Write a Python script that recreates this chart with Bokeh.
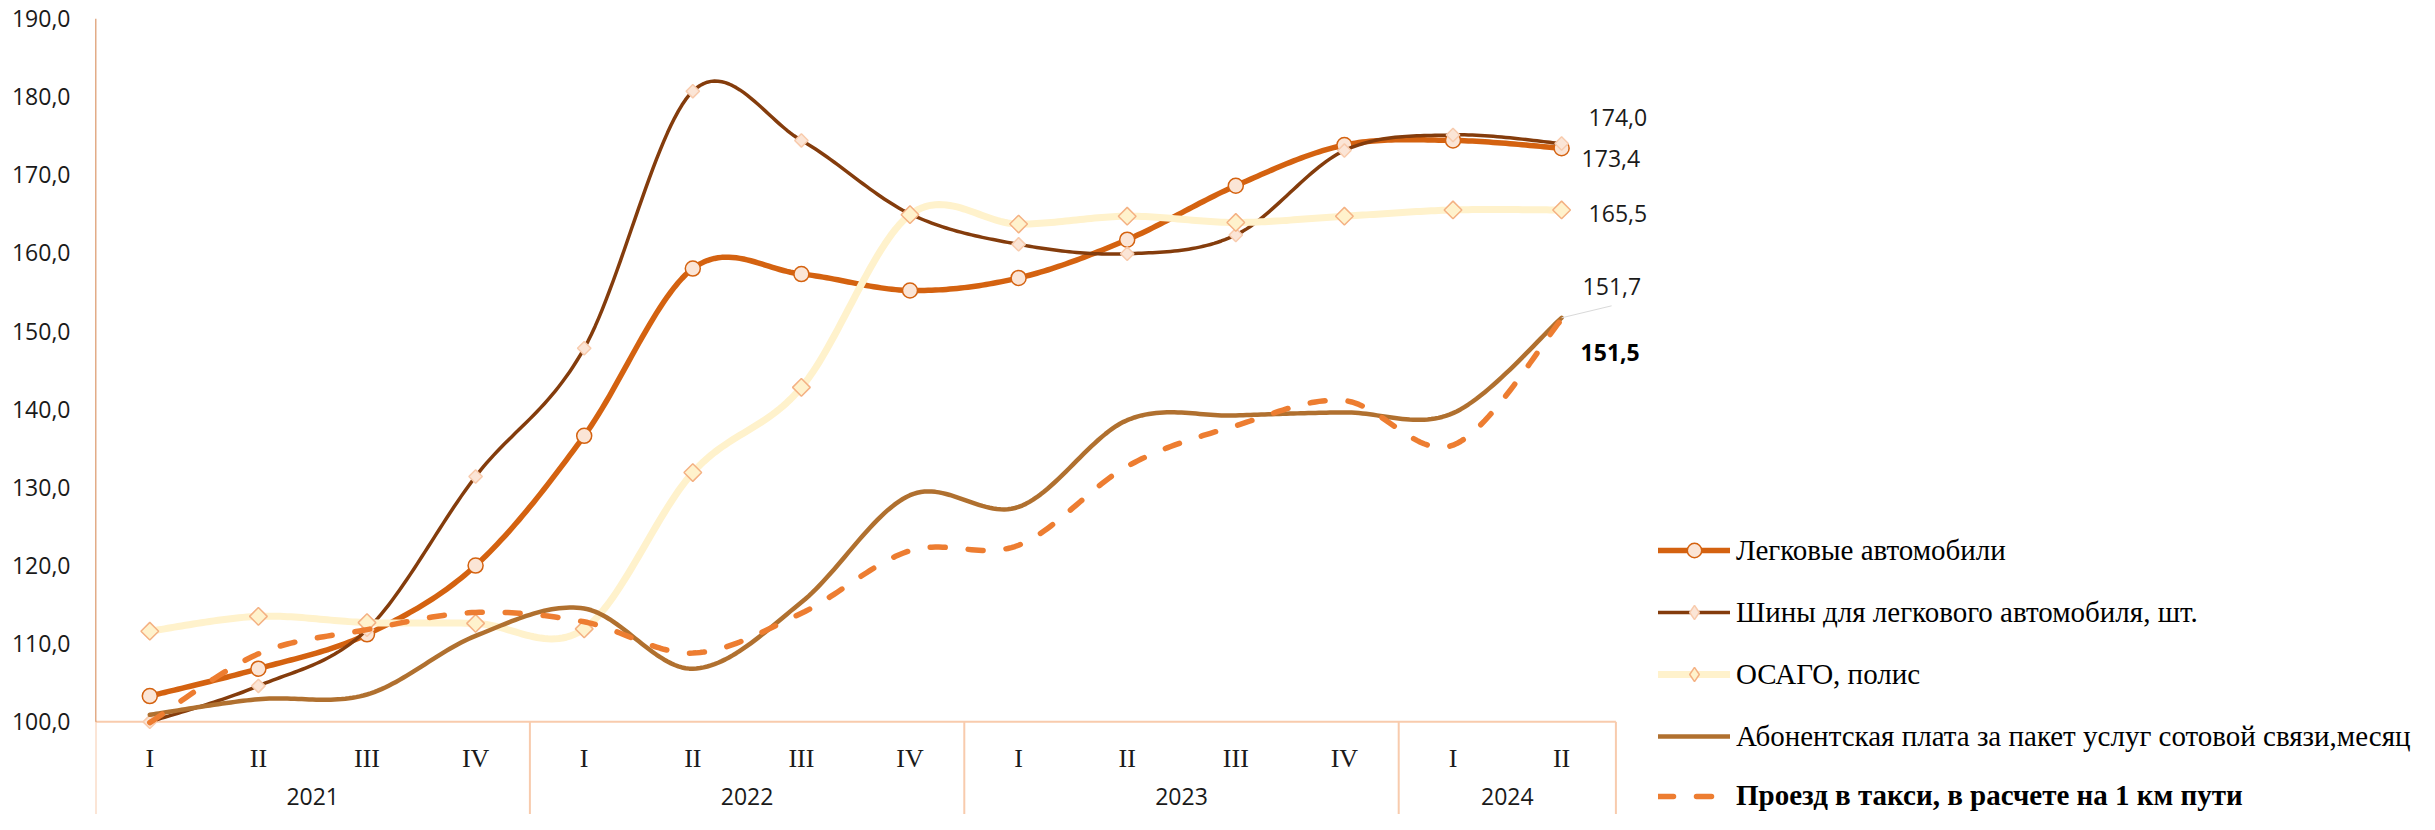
import numpy as np
from bokeh.plotting import figure
from bokeh.models import Range1d, FixedTicker, Legend, LegendItem
from bokeh.core.properties import value
from bokeh.embed import file_html
from bokeh.resources import INLINE

# ---------------- data ----------------
quarters = ["I", "II", "III", "IV", "I", "II", "III", "IV", "I", "II", "III", "IV", "I", "II"]
years = ["2021", "2022", "2023", "2024"]
quarters_per_year = [4, 4, 4, 2]

names = [
    "Легковые автомобили",
    "Шины для легкового автомобиля, шт.",
    "ОСАГО, полис",
    "Абонентская плата за пакет услуг сотовой связи,месяц",
    "Проезд в такси, в расчете на 1 км пути",
]
legk = [103.3, 106.8, 111.2, 120.0, 136.6, 158.0, 157.3, 155.2, 156.8, 161.7, 168.6, 173.8, 174.4, 173.4]
shiny = [100.0, 104.6, 111.8, 131.4, 147.8, 180.7, 174.4, 165.0, 161.1, 159.9, 162.3, 173.1, 175.1, 174.0]
osago = [111.6, 113.5, 112.7, 112.6, 111.9, 131.9, 142.8, 164.9, 163.7, 164.7, 163.9, 164.7, 165.5, 165.5]
abon = [100.9, 102.9, 103.5, 111.0, 114.5, 106.8, 115.3, 129.0, 127.5, 138.6, 139.2, 139.6, 139.5, 151.7]
taxi = [99.9, 108.7, 111.8, 114.0, 112.8, 108.8, 113.9, 121.9, 122.6, 132.7, 137.9, 141.1, 135.4, 151.5]

y_ticks = [100, 110, 120, 130, 140, 150, 160, 170, 180, 190]

# ---------------- layout ----------------
W, H = 2419, 814
LEFT, TOP = 95, 18
CAT_PX = 108.6      # pixels per category
Y_PX = 7.815        # pixels per index unit
Y_MAX = 190
Y_BASE = 100

x_end = (W - LEFT) / CAT_PX
y_start = Y_MAX - (H - TOP) / Y_PX

C_LEGK = "#D46210"
C_SHINY = "#843C0C"
C_OSAGO = "#FFF2CC"
C_ABON = "#B0702F"
C_TAXI = "#ED7D31"
C_PALE = "#F8CBAD"
C_AXIS = "#C55A11"
TXT = "#1a1a1a"


def smooth(xs, ys, n=30):
    P = np.column_stack([xs, ys]).astype(float)
    out = [P[0]]
    t = np.linspace(0, 1, n + 1)[1:, None]
    for i in range(len(P) - 1):
        p0 = P[i - 1] if i > 0 else P[i]
        p1, p2 = P[i], P[i + 1]
        p3 = P[i + 2] if i + 2 < len(P) else P[i + 1]
        c1 = p1 + (p2 - p0) / 6.0
        c2 = p2 - (p3 - p1) / 6.0
        seg = (1 - t) ** 3 * p1 + 3 * (1 - t) ** 2 * t * c1 + 3 * (1 - t) * t ** 2 * c2 + t ** 3 * p2
        out.extend(seg)
    out = np.array(out)
    return out[:, 0], out[:, 1]


xc = [i + 0.5 for i in range(len(quarters))]

p = figure(width=W, height=H, x_range=Range1d(0, x_end), y_range=Range1d(y_start, Y_MAX),
           output_backend="svg", toolbar_location=None, x_axis_type=None,
           min_border_left=LEFT, min_border_right=0, min_border_top=TOP, min_border_bottom=0)
p.outline_line_color = None
p.grid.visible = False
p.background_fill_color = "white"
p.border_fill_color = "white"

ax = p.yaxis[0]
ax.ticker = FixedTicker(ticks=y_ticks)
ax.major_label_overrides = {t: f"{t},0" for t in y_ticks}
ax.axis_line_color = None
ax.major_tick_line_color = None
ax.minor_tick_line_color = None
ax.major_tick_out = 0
ax.major_tick_in = 0
ax.major_label_standoff = 25
ax.major_label_text_font = "Open Sans"
ax.major_label_text_font_size = "23px"
ax.major_label_text_color = TXT

# category axis frame
sep_x = [0]
for q in quarters_per_year:
    sep_x.append(sep_x[-1] + q)
p.segment(x0=sep_x, y0=[y_start] * len(sep_x), x1=sep_x, y1=[Y_BASE] * len(sep_x),
          line_color=C_PALE, line_width=2)
p.segment(x0=[0], y0=[Y_BASE], x1=[sep_x[-1]], y1=[Y_BASE], line_color=C_PALE, line_width=2)
p.segment(x0=[0], y0=[Y_BASE], x1=[0], y1=[Y_MAX], line_color=C_AXIS, line_width=1.5)

# series
sx, sy = smooth(xc, legk)
r0l = p.line(sx, sy, line_color=C_LEGK, line_width=5.5, line_cap="round", line_join="round")
r0m = p.scatter(xc, legk, marker="circle", size=15, fill_color="#FBE5D6", line_color=C_LEGK, line_width=1.5)

sx, sy = smooth(xc, shiny)
r1l = p.line(sx, sy, line_color=C_SHINY, line_width=3.5, line_cap="round", line_join="round")
r1m = p.scatter(xc, shiny, marker="square", angle=np.pi / 4, size=9.5, fill_color="#FBE5D6",
                line_color=C_PALE, line_width=1.5)
r1k = p.scatter([np.nan], [np.nan], marker="diamond", size=14, fill_color="#FBE5D6",
                line_color=C_PALE, line_width=1.5)

sx, sy = smooth(xc, osago)
r2l = p.line(sx, sy, line_color=C_OSAGO, line_width=7, line_cap="round", line_join="round")
r2m = p.scatter(xc, osago, marker="square", angle=np.pi / 4, size=12.5, fill_color=C_OSAGO,
                line_color="#F4B183", line_width=1.5)
r2k = p.scatter([np.nan], [np.nan], marker="diamond", size=17, fill_color=C_OSAGO,
                line_color="#F4B183", line_width=1.5)

sx, sy = smooth(xc, abon)
r3l = p.line(sx, sy, line_color=C_ABON, line_width=4.5, line_cap="round", line_join="round")

sx, sy = smooth(xc, taxi)
r4l = p.line(sx, sy, line_color=C_TAXI, line_width=5.5, line_dash="15 23", line_cap="round",
             line_join="round")

# category labels
p.text(x=xc, y=[Y_BASE] * len(xc), text=quarters, y_offset=37, text_align="center",
       text_baseline="middle", text_font=value("Liberation Serif"), text_font_size="26px",
       text_color=TXT)
year_centers = [(sep_x[i] + sep_x[i + 1]) / 2 for i in range(len(years))]
p.text(x=year_centers, y=[Y_BASE] * len(years), text=years, y_offset=75, text_align="center",
       text_baseline="middle", text_font=value("Open Sans"), text_font_size="23px",
       text_color=TXT)


def fmt(v):
    return f"{v:.1f}".replace(".", ",")


last_x = xc[-1]
# end-value labels
p.text(x=[last_x] * 4, y=[shiny[-1], legk[-1], osago[-1], abon[-1]],
       text=[fmt(shiny[-1]), fmt(legk[-1]), fmt(osago[-1]), fmt(abon[-1])],
       x_offset=[27, 20, 27, 21], y_offset=[-26, 10, 4, -31],
       text_align="left", text_baseline="middle", text_font=value("Open Sans"),
       text_font_size="23px", text_color=TXT)
p.text(x=[last_x], y=[taxi[-1]], text=[fmt(taxi[-1])], x_offset=19, y_offset=33,
       text_align="left", text_baseline="middle", text_font=value("Open Sans"),
       text_font_size="23px", text_font_style="bold", text_color="#000000")
# leader line for the subscription label
p.segment(x0=[last_x], y0=[abon[-1]], x1=[last_x + 50 / CAT_PX], y1=[abon[-1] + 12 / Y_PX],
          line_color="#D9D9D9", line_width=1)

leg_common = dict(background_fill_alpha=0, border_line_alpha=0, padding=0, margin=0,
                  glyph_width=72, label_standoff=6,
                  label_text_font="Liberation Serif", label_text_font_size="29px",
                  label_text_color="#000000")
leg1 = Legend(items=[LegendItem(label=names[0], renderers=[r0l, r0m]),
                     LegendItem(label=names[1], renderers=[r1l, r1k]),
                     LegendItem(label=names[2], renderers=[r2l, r2k]),
                     LegendItem(label=names[3], renderers=[r3l])],
              location=(1563, 60), spacing=26, glyph_height=36, label_height=36, **leg_common)
leg2 = Legend(items=[LegendItem(label=names[4], renderers=[r4l])],
              location=(1563, 2), glyph_height=30, label_height=30,
              label_text_font_style="bold", **leg_common)
p.add_layout(leg1)
p.add_layout(leg2)

open("out.html", "w").write(file_html(p, INLINE))
